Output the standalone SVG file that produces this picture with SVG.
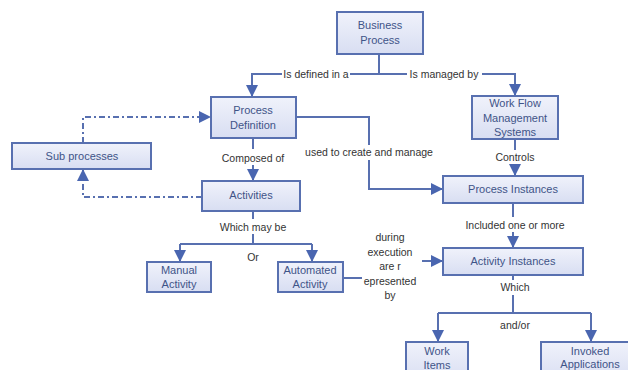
<svg xmlns="http://www.w3.org/2000/svg" width="628" height="370" viewBox="0 0 628 370">
<style>
.box{fill:url(#g);stroke:#5870b0;stroke-width:2}
.bt{font-family:"Liberation Sans",Arial,sans-serif;font-size:11px;fill:#3f5488;text-anchor:middle}
.lt{font-family:"Liberation Sans",Arial,sans-serif;font-size:10.5px;fill:#333;text-anchor:middle}
.c{fill:none;stroke:#5870b0;stroke-width:2}
.d{fill:none;stroke:#5870b0;stroke-width:2;stroke-dasharray:6 3 2 3}
</style>
<defs>
<linearGradient id="g" x1="0" y1="0" x2="0" y2="1">
<stop offset="0" stop-color="#f0f2fb"/>
<stop offset="1" stop-color="#d8def2"/>
</linearGradient>
<marker id="a" viewBox="0 0 10 10" refX="10" refY="5" markerWidth="12" markerHeight="12" markerUnits="userSpaceOnUse" orient="auto">
<path d="M0,0 L10,5 L0,10 z" fill="#4a66b0"/>
</marker>
</defs>
<rect width="628" height="370" fill="#fff"/>
<g id="connectors">
<path class="c" d="M379,54 V74 H350"/>
<path class="c" d="M282,74 H252 V97" marker-end="url(#a)"/>
<path class="c" d="M379,74 H407"/>
<path class="c" d="M482,74 H515 V96" marker-end="url(#a)"/>
<path class="d" d="M83,143 V117 H211" marker-end="url(#a)"/>
<path class="d" d="M202,197 H83 V169" marker-end="url(#a)"/>
<path class="c" d="M253,138 V149"/>
<path class="c" d="M253,165 V181" marker-end="url(#a)"/>
<path class="c" d="M253,211 V219"/>
<path class="c" d="M253,234 V244"/>
<path class="c" d="M180,244 H312"/>
<path class="c" d="M180,244 V262" marker-end="url(#a)"/>
<path class="c" d="M312,244 V262" marker-end="url(#a)"/>
<path class="c" d="M296,117 H369 V145"/>
<path class="c" d="M369,160 V189 H443" marker-end="url(#a)"/>
<path class="c" d="M515,139 V150"/>
<path class="c" d="M515,164 V176" marker-end="url(#a)"/>
<path class="c" d="M513,203 V217"/>
<path class="c" d="M513,232 V248" marker-end="url(#a)"/>
<path class="c" d="M343,278 H362"/>
<path class="c" d="M422,261 H443" marker-end="url(#a)"/>
<path class="c" d="M513,275 V280"/>
<path class="c" d="M513,295 V313"/>
<path class="c" d="M438,313 H591"/>
<path class="c" d="M438,313 V342" marker-end="url(#a)"/>
<path class="c" d="M591,313 V342" marker-end="url(#a)"/>
<text class="lt" x="316" y="78">Is defined in a</text>
<text class="lt" x="444" y="78">Is managed by</text>
<text class="lt" x="253" y="162">Composed of</text>
<text class="lt" x="253" y="231">Which may be</text>
<text class="lt" x="253" y="261">Or</text>
<text class="lt" x="369" y="156">used to create and manage</text>
<text class="lt" x="515" y="161">Controls</text>
<text class="lt" x="515" y="229">Included one or more</text>
<text class="lt" x="390" y="241">during</text>
<text class="lt" x="390" y="256">execution</text>
<text class="lt" x="390" y="270">are r</text>
<text class="lt" x="390" y="285">epresented</text>
<text class="lt" x="390" y="299">by</text>
<text class="lt" x="515" y="291">Which</text>
<text class="lt" x="515" y="329">and/or</text>
</g>
<g id="business-process">
<rect class="box" x="337" y="12" width="86" height="42"/>
<text class="bt" x="380" y="29">Business</text>
<text class="bt" x="380" y="44">Process</text>
</g>
<g id="process-definition">
<rect class="box" x="211" y="97" width="85" height="41"/>
<text class="bt" x="253" y="114">Process</text>
<text class="bt" x="253" y="129">Definition</text>
</g>
<g id="workflow-management-systems">
<rect class="box" x="472" y="96" width="86" height="43"/>
<text class="bt" x="515" y="107">Work Flow</text>
<text class="bt" x="515" y="122">Management</text>
<text class="bt" x="515" y="136">Systems</text>
</g>
<g id="sub-processes">
<rect class="box" x="12" y="143" width="139" height="26"/>
<text class="bt" x="82" y="160">Sub processes</text>
</g>
<g id="activities">
<rect class="box" x="202" y="181" width="98" height="30"/>
<text class="bt" x="251" y="199">Activities</text>
</g>
<g id="process-instances">
<rect class="box" x="443" y="176" width="140" height="27"/>
<text class="bt" x="513" y="193">Process Instances</text>
</g>
<g id="manual-activity">
<rect class="box" x="147" y="262" width="64" height="30"/>
<text class="bt" x="179" y="274">Manual</text>
<text class="bt" x="179" y="288">Activity</text>
</g>
<g id="automated-activity">
<rect class="box" x="278" y="262" width="65" height="30"/>
<text class="bt" x="310" y="274">Automated</text>
<text class="bt" x="310" y="288">Activity</text>
</g>
<g id="activity-instances">
<rect class="box" x="443" y="248" width="140" height="27"/>
<text class="bt" x="513" y="265">Activity Instances</text>
</g>
<g id="work-items">
<rect class="box" x="406" y="342" width="62" height="40"/>
<text class="bt" x="437" y="355">Work</text>
<text class="bt" x="437" y="369">Items</text>
</g>
<g id="invoked-applications">
<rect class="box" x="541" y="342" width="100" height="40"/>
<text class="bt" x="590" y="355">Invoked</text>
<text class="bt" x="590" y="368">Applications</text>
</g>
</svg>
